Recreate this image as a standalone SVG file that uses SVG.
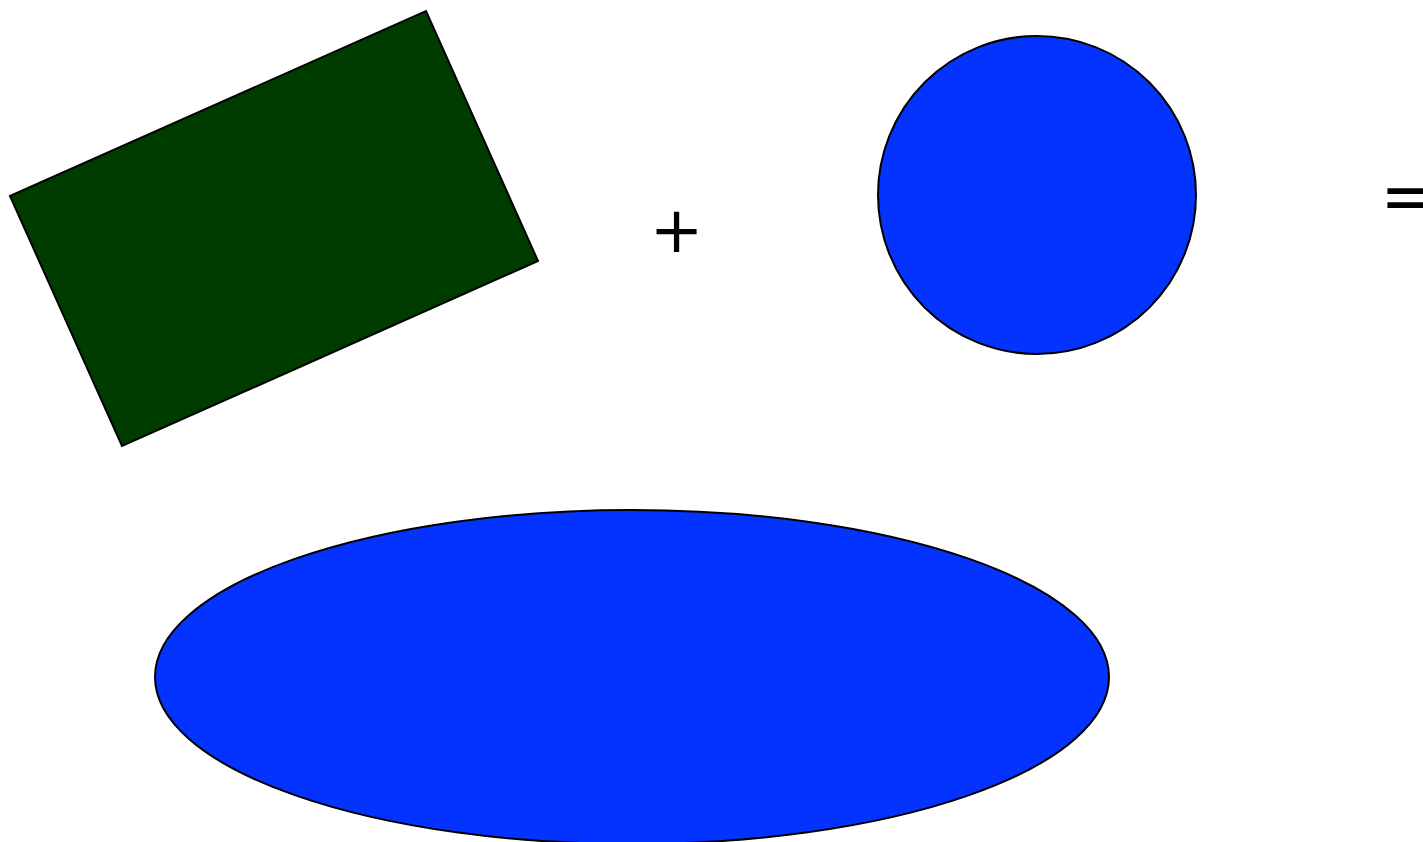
<svg xmlns="http://www.w3.org/2000/svg" width="1423" height="842" viewBox="0 0 1423 842">
<style>
.sh{stroke:#000;stroke-width:2}
.op{font-family:"DejaVu Sans",sans-serif;font-size:64px;fill:#000}
</style>
<rect width="1423" height="842" fill="#fff"/>
<g id="rect1"><polygon class="sh" fill="#003c00" points="10,196 426,11 538,261 122,446"/></g>
<g id="plus"><text class="op" x="676.5" y="252" text-anchor="middle">+</text></g>
<g id="circle1"><circle class="sh" fill="#0433ff" cx="1037" cy="195" r="159"/></g>
<g id="equals"><text class="op" x="1380" y="220" style="font-size:70px">=</text></g>
<g id="ellipse1"><ellipse class="sh" fill="#0433ff" cx="632" cy="677" rx="477" ry="167"/></g>
<g id="connectors"></g>
</svg>
